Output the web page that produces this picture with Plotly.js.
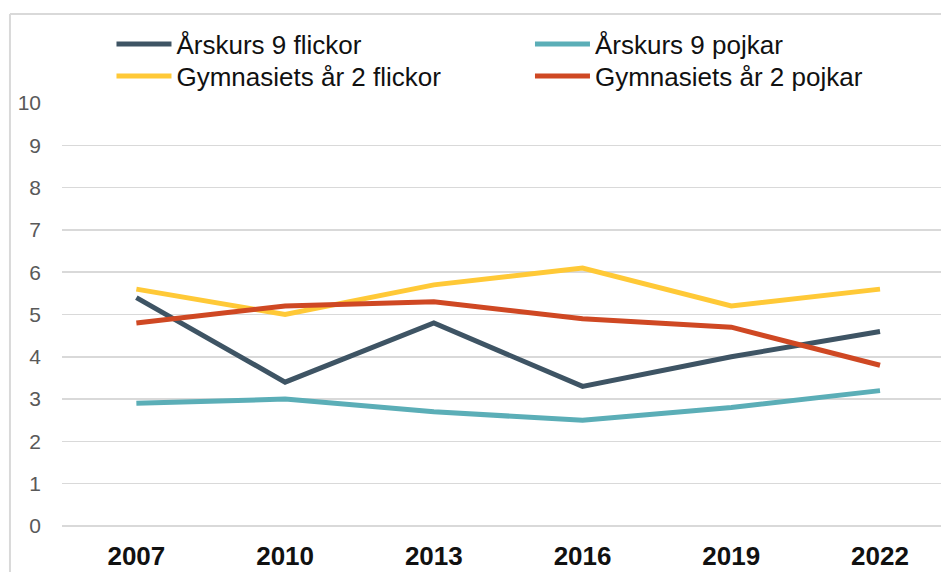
<!DOCTYPE html>
<html>
<head>
<meta charset="utf-8">
<script src="https://cdn.plot.ly/plotly-3.0.1.min.js"></script>
<style>html,body{margin:0;padding:0;background:#fff;overflow:hidden;}</style>
</head>
<body>
<div id="chart" style="width:941px;height:572px;"></div>
<script>
const years = ["2007", "2010", "2013", "2016", "2019", "2022"];
const ak9Flickor = [5.4, 3.4, 4.8, 3.3, 4.0, 4.6];
const ak9Pojkar = [2.9, 3.0, 2.7, 2.5, 2.8, 3.2];
const gy2Flickor = [5.6, 5.0, 5.7, 6.1, 5.2, 5.6];
const gy2Pojkar = [4.8, 5.2, 5.3, 4.9, 4.7, 3.8];
const yTicks = [0, 1, 2, 3, 4, 5, 6, 7, 8, 9, 10];

const FONT = "Liberation Sans, Arial, sans-serif";

function tr(name, y, color, legend) {
  return {
    type: "scatter", mode: "lines", name: name, x: years, y: y,
    line: {color: color, width: 5}, legend: legend
  };
}

const data = [
  tr("Årskurs 9 flickor", ak9Flickor, "#3e5464", "legend"),
  tr("Årskurs 9 pojkar", ak9Pojkar, "#5baeb7", "legend2"),
  tr("Gymnasiets år 2 flickor", gy2Flickor, "#ffc937", "legend3"),
  tr("Gymnasiets år 2 pojkar", gy2Pojkar, "#cf4823", "legend4")
];

function leg(x, y) {
  return {
    orientation: "v", xanchor: "left", yanchor: "top", x: x, y: y,
    font: {family: FONT, size: 26, color: "#111"},
    bgcolor: "rgba(0,0,0,0)", borderwidth: 0, itemwidth: 55
  };
}

const layout = {
  width: 941, height: 572,
  margin: {l: 62, r: 0, t: 103, b: 46, pad: 0},
  paper_bgcolor: "#fff", plot_bgcolor: "#fff",
  showlegend: true,
  legend: leg(0.0563, 1.1948),
  legend2: leg(0.5324, 1.1948),
  legend3: leg(0.0563, 1.1191),
  legend4: leg(0.5324, 1.1191),
  xaxis: {
    type: "category", range: [-0.5, 5.41],
    showgrid: false, zeroline: false, showline: false, ticks: "",
    tickfont: {family: FONT, size: 26, color: "#111", weight: "bold"},
    ticklabelstandoff: 12, fixedrange: true
  },
  yaxis: {
    range: [0, 10], tickvals: yTicks, ticktext: yTicks.map(String),
    showgrid: true, gridcolor: "#d9d9d9", gridwidth: 1.5,
    zeroline: true, zerolinecolor: "#d9d9d9", zerolinewidth: 1.5,
    showline: false, ticks: "",
    tickfont: {family: FONT, size: 21, color: "#595959"},
    ticklabelstandoff: 20, fixedrange: true
  },
  shapes: [
    {type: "line", xref: "paper", yref: "paper", x0: -0.0592, x1: -0.0592, y0: -0.2, y1: 1.2104,
     line: {color: "#d9d9d9", width: 2}, layer: "below"},
    {type: "line", xref: "paper", yref: "paper", x0: -0.0592, x1: 1.1, y0: 1.2104, y1: 1.2104,
     line: {color: "#d9d9d9", width: 2}, layer: "below"}
  ]
};

Plotly.newPlot("chart", data, layout, {displayModeBar: false, staticPlot: true});
</script>
</body>
</html>
